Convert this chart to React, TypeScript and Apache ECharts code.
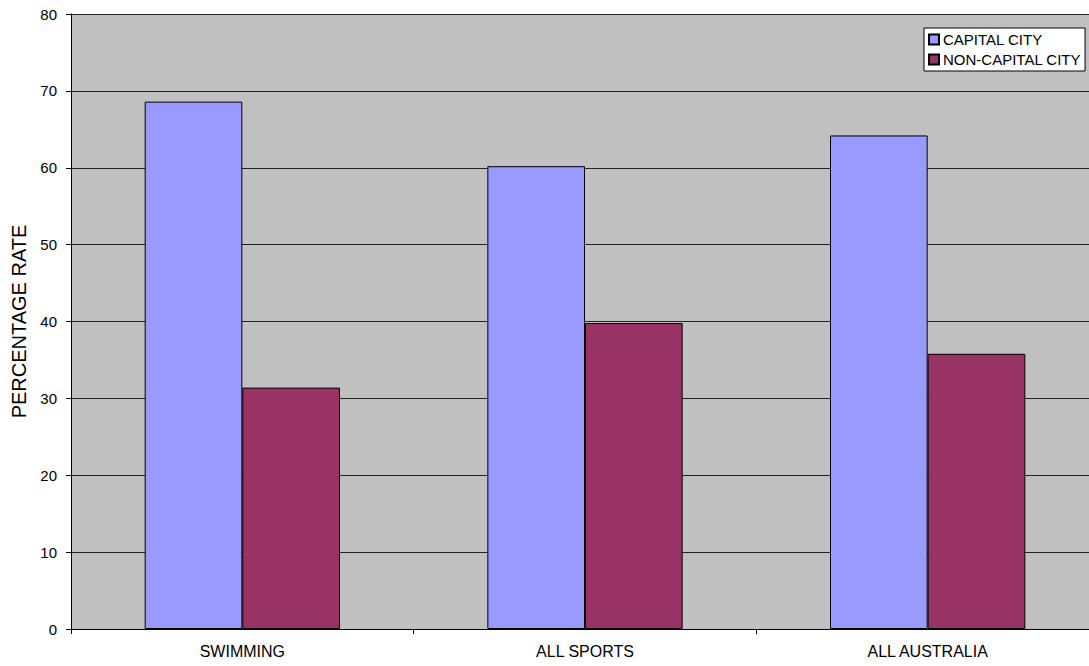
import React, { useEffect, useRef } from "react";
import * as echarts from "echarts";

const categories = ["SWIMMING", "ALL SPORTS", "ALL AUSTRALIA"];
const capitalCity = [68.6, 60.2, 64.2];
const nonCapitalCity = [31.4, 39.8, 35.8];
const seriesNames = ["CAPITAL CITY", "NON-CAPITAL CITY"];

export default function App() {
  const ref = useRef<HTMLDivElement>(null);
  useEffect(() => {
    const chart = echarts.init(ref.current!, null, { renderer: "svg" });
    const font = "Liberation Sans, Arial, sans-serif";
    chart.setOption({
      animation: false,
      backgroundColor: "#ffffff",
      textStyle: { fontFamily: font },
      grid: { left: 71, right: 0, top: 14, bottom: 37, containLabel: false, show: true, backgroundColor: "#C0C0C0", borderWidth: 0 },
      legend: {
        orient: "vertical",
        left: 924,
        top: 28,
        data: seriesNames,
        backgroundColor: "#ffffff",
        borderColor: "#000000",
        borderWidth: 1,
        borderRadius: 0,
        padding: [4, 4, 4, 4],
        itemWidth: 10,
        itemHeight: 10,
        itemGap: 5,
        icon: "rect",
        textStyle: { fontSize: 15, color: "#000", fontFamily: font, padding: [0, 0, 0, -1] },
      },
      xAxis: {
        type: "category",
        data: categories,
        axisLine: { lineStyle: { color: "#000", width: 1 } },
        axisTick: { show: true, length: 5, lineStyle: { color: "#000" } },
        axisLabel: { fontSize: 16, color: "#000", margin: 14, fontFamily: font },
        splitLine: { show: false },
      },
      yAxis: {
        type: "value",
        min: 0,
        max: 80,
        interval: 10,
        name: "PERCENTAGE RATE",
        nameLocation: "middle",
        nameGap: 37,
        nameTextStyle: { fontSize: 20, color: "#000", fontFamily: font },
        axisLine: { show: true, lineStyle: { color: "#000", width: 1 } },
        axisTick: { show: true, length: 5, lineStyle: { color: "#000" } },
        axisLabel: { fontSize: 15, color: "#000", margin: 14, fontFamily: font },
        splitLine: { show: true, lineStyle: { color: "#222", width: 1 } },
      },
      series: [
        {
          name: seriesNames[0],
          type: "bar",
          data: capitalCity,
          barGap: "0%",
          barCategoryGap: "43%",
          itemStyle: { color: "#9999FF", borderColor: "#000", borderWidth: 1 },
        },
        {
          name: seriesNames[1],
          type: "bar",
          data: nonCapitalCity,
          itemStyle: { color: "#993366", borderColor: "#000", borderWidth: 1 },
        },
      ],
    });
    return () => chart.dispose();
  }, []);
  return (
    <div style={{ position: "absolute", left: 0, top: 0, width: 1089, height: 666, overflow: "hidden" }}>
      <div ref={ref} style={{ width: 1099, height: 666 }} />
    </div>
  );
}
